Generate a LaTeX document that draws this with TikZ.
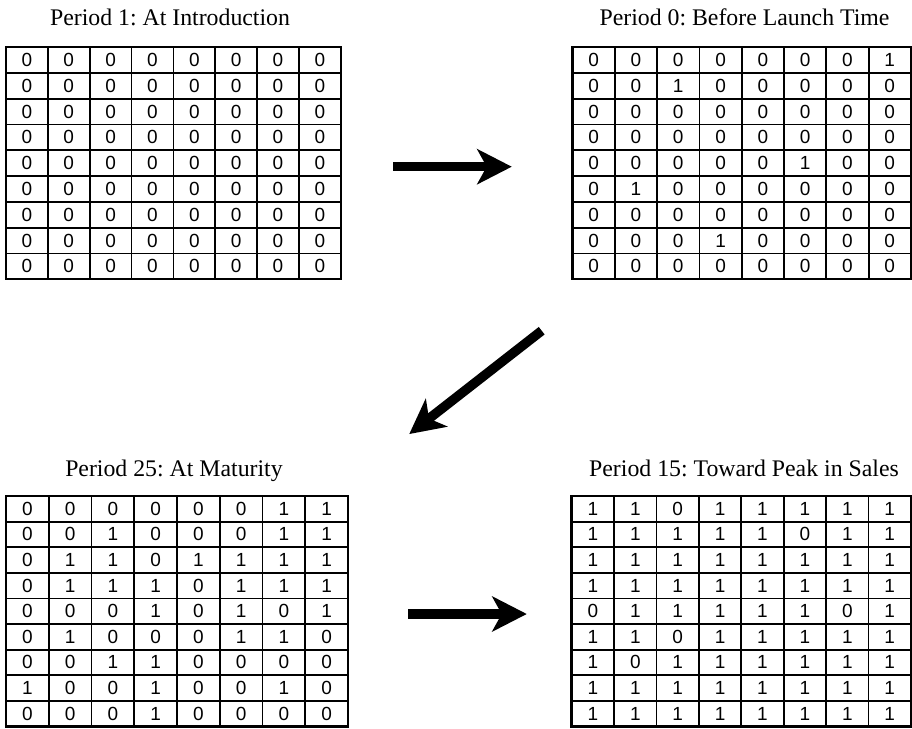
\documentclass[tikz,border=0pt]{standalone}
\usepackage{fontspec}
\setmainfont{Liberation Serif}
\newfontfamily\cellfont{Liberation Sans}
\usetikzlibrary{arrows.meta}
\frenchspacing

\newcommand{\drawgrid}[6]{% name, x0, y0, cw, rh, rows
  \foreach \row [count=\r] in {#6} {
    \foreach \v [count=\c] in \row {
      \node[cell, minimum width=#4pt, minimum height=#5pt]
        (#1-\r-\c) at ({#2+(\c-0.5)*#4}, {#3+(\r-0.5)*#5}) {\v};
    }
  }
  \draw[border] (#2,#3) rectangle ({#2+8*#4},{#3+9*#5});
}

\begin{document}
\begin{tikzpicture}[x=1pt,y=-1pt,
  cell/.style={draw=black, line width=1.8pt, inner sep=0pt, outer sep=0pt,
    font=\cellfont\fontsize{19}{19}\selectfont},
  border/.style={draw=black, line width=2.5pt},
  gtitle/.style={anchor=base, inner sep=0pt, font=\fontsize{23.8}{26}\selectfont},
  bigarrow/.style={line width=9.5pt,
    -{Stealth[length=35pt, width=36pt, inset=10pt, line width=0pt]}}]

\useasboundingbox (0,0) rectangle (912,728);

\node[gtitle] (t1) at (170,25) {Period 1: At Introduction};
\node[gtitle] (t0) at (744.5,25) {Period 0: Before Launch Time};
\node[gtitle] (t25) at (174,476) {Period 25: At Maturity};
\node[gtitle] (t15) at (744,476) {Period 15: Toward Peak in Sales};

\drawgrid{ga}{6}{47}{41.85}{25.8}{
 {0,0,0,0,0,0,0,0},{0,0,0,0,0,0,0,0},{0,0,0,0,0,0,0,0},
 {0,0,0,0,0,0,0,0},{0,0,0,0,0,0,0,0},{0,0,0,0,0,0,0,0},
 {0,0,0,0,0,0,0,0},{0,0,0,0,0,0,0,0},{0,0,0,0,0,0,0,0}}

\drawgrid{gb}{572.5}{47}{42.3}{25.8}{
 {0,0,0,0,0,0,0,1},{0,0,1,0,0,0,0,0},{0,0,0,0,0,0,0,0},
 {0,0,0,0,0,0,0,0},{0,0,0,0,0,1,0,0},{0,1,0,0,0,0,0,0},
 {0,0,0,0,0,0,0,0},{0,0,0,1,0,0,0,0},{0,0,0,0,0,0,0,0}}

\drawgrid{gc}{6}{496}{42.75}{25.6}{
 {0,0,0,0,0,0,1,1},{0,0,1,0,0,0,1,1},{0,1,1,0,1,1,1,1},
 {0,1,1,1,0,1,1,1},{0,0,0,1,0,1,0,1},{0,1,0,0,0,1,1,0},
 {0,0,1,1,0,0,0,0},{1,0,0,1,0,0,1,0},{0,0,0,1,0,0,0,0}}

\drawgrid{gd}{571.7}{496}{42.4}{25.6}{
 {1,1,0,1,1,1,1,1},{1,1,1,1,1,0,1,1},{1,1,1,1,1,1,1,1},
 {1,1,1,1,1,1,1,1},{0,1,1,1,1,1,0,1},{1,1,0,1,1,1,1,1},
 {1,0,1,1,1,1,1,1},{1,1,1,1,1,1,1,1},{1,1,1,1,1,1,1,1}}

\coordinate (a1s) at (393,166.7);
\coordinate (a1e) at (511.7,166.7);
\coordinate (a2s) at (541.7,330.7);
\coordinate (a2e) at (409.3,434);
\coordinate (a3s) at (408.3,614);
\coordinate (a3e) at (526.7,614);

\draw[bigarrow] (a1s) -- (a1e);
\draw[bigarrow] (a2s) -- (a2e);
\draw[bigarrow] (a3s) -- (a3e);
\end{tikzpicture}
\end{document}
